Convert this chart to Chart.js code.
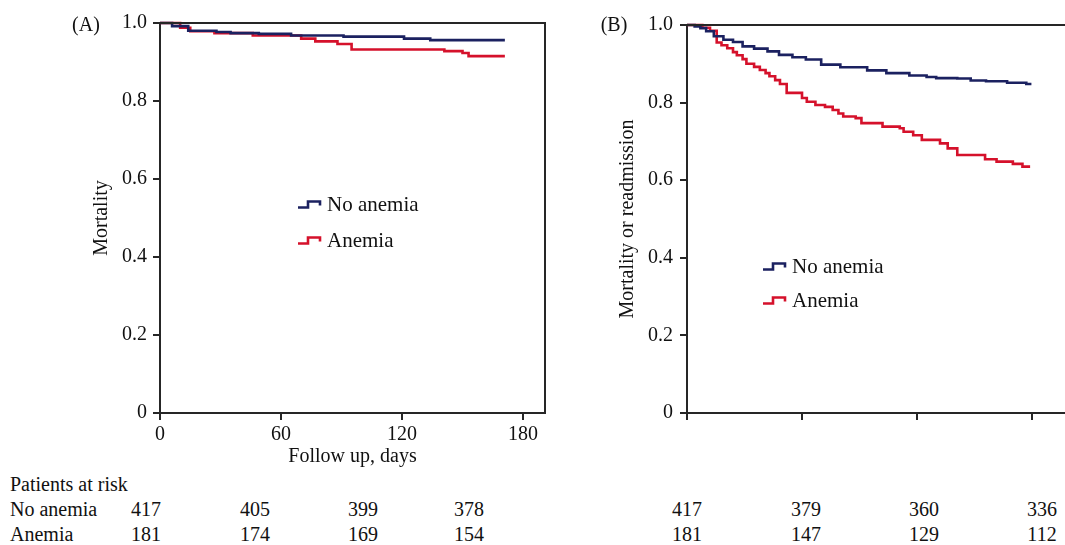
<!DOCTYPE html>
<html>
<head>
<meta charset="utf-8">
<script src="https://cdn.jsdelivr.net/npm/chart.js@4.4.1/dist/chart.umd.min.js"></script>
<style>
  html, body { margin: 0; padding: 0; background: #fff; }
  #wrap { position: relative; width: 1065px; height: 545px; overflow: hidden; font-family: "Liberation Serif", "Times New Roman", serif; color: #111; }
  canvas { position: absolute; top: 0; }
  .t { position: absolute; font-size: 20px; white-space: nowrap; line-height: 1; }
  .c { transform: translate(-50%, -50%); }
  .l { transform: translate(0, -50%); }
  .leg { position: absolute; font-size: 21px; white-space: nowrap; line-height: 1; transform: translate(0, -50%); display: flex; align-items: center; }
  .leg svg { margin-right: 5px; }
</style>
</head>
<body>
<div id="wrap">
  <canvas id="cA" width="560" height="473" style="left:0px"></canvas>
  <canvas id="cB" width="505" height="473" style="left:560px"></canvas>
</div>
<script>
// ---------------- data ----------------
const tickDays = [0, 60, 120, 180];

// Panel A (Mortality)
const timeNoAnemiaA = [0, 6, 14, 28, 35, 49, 65, 91, 121, 134, 171];
const valNoAnemiaA  = [1.0, 0.992, 0.980, 0.977, 0.974, 0.972, 0.968, 0.965, 0.960, 0.956, 0.956];
const timeAnemiaA   = [0, 10, 15, 27, 46, 70, 77, 88, 95, 141, 150, 153, 171];
const valAnemiaA    = [1.0, 0.988, 0.979, 0.974, 0.968, 0.960, 0.953, 0.946, 0.932, 0.928, 0.923, 0.915, 0.915];

// Panel B (Mortality or readmission)
const timeNoAnemiaB = [0, 4, 7, 10, 14, 19, 24, 29, 35, 42, 48, 55, 62, 70, 80, 94, 104, 116, 125, 130, 141, 148, 156, 167, 177, 179];
const valNoAnemiaB  = [1.0, 0.996, 0.992, 0.984, 0.971, 0.962, 0.956, 0.945, 0.939, 0.932, 0.923, 0.917, 0.911, 0.898, 0.891, 0.883, 0.876, 0.870, 0.866, 0.863, 0.862, 0.857, 0.855, 0.851, 0.848, 0.845];
const timeAnemiaB   = [0, 8, 12, 15.5, 18, 21, 24, 26, 29, 31, 35, 38, 41, 43, 46, 48.5, 52, 60, 62.5, 67, 72, 76, 79, 81.5, 88, 91, 102, 111, 113, 118, 122.5, 132, 136, 141, 155.5, 161.5, 170, 175, 179];
const valAnemiaB    = [1.0, 0.993, 0.985, 0.955, 0.948, 0.940, 0.930, 0.922, 0.912, 0.900, 0.892, 0.884, 0.876, 0.868, 0.858, 0.848, 0.825, 0.812, 0.802, 0.794, 0.789, 0.781, 0.772, 0.764, 0.760, 0.747, 0.738, 0.734, 0.725, 0.716, 0.704, 0.695, 0.682, 0.665, 0.654, 0.648, 0.642, 0.635, 0.635];

// Patients at risk
const riskRowLabels   = ["No anemia", "Anemia"];
const riskNoAnemiaA = [417, 405, 399, 378];
const riskAnemiaA   = [181, 174, 169, 154];
const riskNoAnemiaB = [417, 379, 360, 336];
const riskAnemiaB   = [181, 147, 129, 112];

const seriesNames = ["No anemia", "Anemia"];
const yTitleA = "Mortality";
const yTitleB = "Mortality or readmission";
const xTitleA = "Follow up, days";

// ---------------- styles / layout ----------------
const BLUE = "#1b2160";
const RED = "#d5112b";
const AXIS = "#262626";
const FONT = "Liberation Serif";

Chart.defaults.font.family = FONT;
Chart.defaults.font.size = 20;
Chart.defaults.color = "#111";

function pts(ts, vs) { return ts.map((t, i) => ({ x: t, y: vs[i] })); }

const framePlugin = {
  id: "frame",
  afterDraw(chart, args, opts) {
    const { ctx, chartArea: a } = chart;
    ctx.save();
    ctx.strokeStyle = AXIS;
    ctx.lineWidth = 2;
    ctx.beginPath();
    ctx.moveTo(a.left, a.top);
    ctx.lineTo(opts.rightEdge || a.right, a.top);
    if (opts.box) ctx.lineTo(a.right, a.bottom);
    ctx.stroke();
    ctx.restore();
  }
};

function makeChart(id, cfg) {
  return new Chart(document.getElementById(id), {
    type: "line",
    data: {
      datasets: [
        { label: seriesNames[0], data: pts(cfg.t1, cfg.v1), borderColor: BLUE, borderWidth: 2.6, stepped: true, pointRadius: 0, fill: false, clip: 6 },
        { label: seriesNames[1], data: pts(cfg.t2, cfg.v2), borderColor: RED, borderWidth: 2.6, stepped: true, pointRadius: 0, fill: false, clip: 6 }
      ]
    },
    options: {
      responsive: false,
      animation: false,
      devicePixelRatio: 1,
      layout: { padding: cfg.pad },
      plugins: { legend: { display: false }, tooltip: { enabled: false }, frame: { box: cfg.box } },
      scales: {
        x: {
          type: "linear", min: 0, max: cfg.xmax,
          afterBuildTicks: s => { s.ticks = tickDays.map(v => ({ value: v })); },
          afterFit: s => { s.height = 60; },
          ticks: { display: cfg.xlabels, padding: 3, font: { size: 20 }, color: "#111", callback: v => String(v) },
          grid: { drawOnChartArea: false, drawTicks: true, tickLength: 7, color: AXIS, lineWidth: 2 },
          border: { display: true, color: AXIS, width: 2 },
          title: { display: cfg.xlabels, text: xTitleA, font: { size: 20, lineHeight: 1.2 }, padding: { top: 0, bottom: 4 }, color: "#111" }
        },
        y: {
          type: "linear", min: 0, max: 1,
          afterFit: s => { s.width = cfg.yw; },
          ticks: { stepSize: 0.2, padding: cfg.ypad, font: { size: 20 }, color: "#111", callback: v => (Math.abs(v) < 1e-9 ? "0" : Number(v).toFixed(1)) },
          grid: { drawOnChartArea: false, drawTicks: true, tickLength: 7, color: AXIS, lineWidth: 2 },
          border: { display: true, color: AXIS, width: 2 },
          title: { display: true, text: cfg.ytitle, font: { size: 20, lineHeight: 1.2 }, padding: { top: 4, bottom: 0 }, color: "#111" }
        }
      }
    },
    plugins: [framePlugin]
  });
}

makeChart("cA", {
  t1: timeNoAnemiaA, v1: valNoAnemiaA, t2: timeAnemiaA, v2: valAnemiaA,
  xmax: 190.9, pad: { left: 86, right: 15, top: 23, bottom: 0 }, yw: 74, ypad: 6,
  xlabels: true, ytitle: yTitleA, box: true
});
makeChart("cB", {
  t1: timeNoAnemiaB, v1: valNoAnemiaB, t2: timeAnemiaB, v2: valAnemiaB,
  xmax: 197.2, pad: { left: 52, right: 0, top: 25, bottom: 0 }, yw: 75, ypad: 7,
  xlabels: false, ytitle: yTitleB, box: false
});

// ---------------- HTML text: panel labels, legends, risk table ----------------
const wrap = document.getElementById("wrap");
function addText(txt, x, y, cls, extra) {
  const d = document.createElement("div");
  d.className = "t " + cls;
  d.style.left = x + "px";
  d.style.top = y + "px";
  if (extra) Object.assign(d.style, extra);
  d.textContent = txt;
  wrap.appendChild(d);
  return d;
}
function stepIcon(color) {
  return '<svg width="24" height="10" viewBox="0 0 24 10"><polyline points="0,8 10,8 10,2 22,2 22,6" fill="none" stroke="' + color + '" stroke-width="2.6"/></svg>';
}
function addLegend(x, y, color, label) {
  const d = document.createElement("div");
  d.className = "leg";
  d.style.left = x + "px";
  d.style.top = y + "px";
  d.innerHTML = stepIcon(color);
  const s = document.createElement("span");
  s.textContent = label;
  d.appendChild(s);
  wrap.appendChild(d);
}

addText("(A)", 86, 24, "c");
addText("(B)", 614, 24, "c");

addLegend(298, 204, BLUE, seriesNames[0]);
addLegend(298, 240, RED, seriesNames[1]);
addLegend(763, 266, BLUE, seriesNames[0]);
addLegend(763, 300, RED, seriesNames[1]);

addText("Patients at risk", 10, 484, "l");
addText(riskRowLabels[0], 10, 509, "l");
addText(riskRowLabels[1], 10, 534, "l");

const riskColsA = [146, 255, 363, 469];
const riskColsB = [687, 806, 924, 1042];
riskNoAnemiaA.forEach((v, i) => addText(String(v), riskColsA[i], 509, "c"));
riskAnemiaA.forEach((v, i) => addText(String(v), riskColsA[i], 534, "c"));
riskNoAnemiaB.forEach((v, i) => addText(String(v), riskColsB[i], 509, "c"));
riskAnemiaB.forEach((v, i) => addText(String(v), riskColsB[i], 534, "c"));
</script>
</body>
</html>
